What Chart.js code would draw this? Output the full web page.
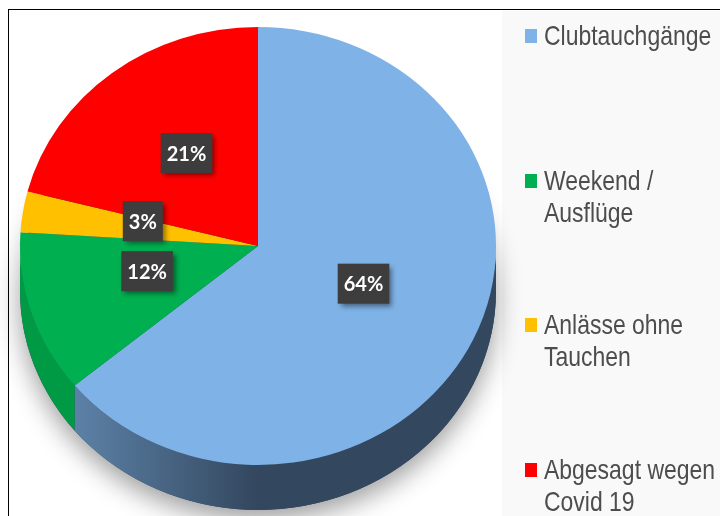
<!DOCTYPE html>
<html>
<head>
<meta charset="utf-8">
<script src="https://cdn.jsdelivr.net/npm/chart.js@4"></script>
<style>
  html,body{margin:0;padding:0;}
  body{width:720px;height:516px;position:relative;overflow:hidden;background:#fff;}
  #frame{position:absolute;left:8px;top:9px;width:720px;height:520px;border-top:1.5px solid #000;border-left:1.5px solid #000;}
  #panel{position:absolute;left:502px;top:11px;width:218px;height:505px;background:#f9f9f9;}
  #chart{position:absolute;left:0;top:0;}
  #legend{position:absolute;left:525px;top:20px;font-family:"Liberation Sans",Arial,sans-serif;font-size:28px;line-height:32px;color:#4d4d4d;white-space:nowrap;}
  .item{height:144.5px;position:relative;}
  .box{position:absolute;left:0;top:9px;width:12px;height:14px;}
  .txt{position:absolute;left:19px;top:0;transform:scaleX(0.82);transform-origin:0 0;}
</style>
</head>
<body>
<div id="frame"></div>
<div id="panel"></div>
<canvas id="chart" width="720" height="516"></canvas>
<div id="legend"></div>
<script>
// ── Daten ──────────────────────────────────────────────────────────────────
const KATEGORIEN = [['Clubtauchgänge'], ['Weekend /','Ausflüge'], ['Anlässe ohne','Tauchen'], ['Abgesagt wegen','Covid 19']];
const ANTEILE    = [64, 12, 3, 21];

const C = {
  blue:'#7fb2e6', green:'#00b050', amber:'#ffc000', red:'#ff0000',
};
const FARBEN = [C.blue, C.green, C.amber, C.red];
// Seitenwand (3D-Rand): [hell, dunkel]
const RAND = [['#5b80a5','#33475e'], ['#009a45','#007a33'], ['#c79600','#a07800'], ['#c00000','#900000']];

const SY = 0.92;     // Neigung: vertikale Stauchung
const TIEFE = 45;    // Randhöhe in px
const HEBUNG = -8;   // Perspektive: Etiketten leicht nach oben

// ── Plugin: 3D-Neigung + Rand ──────────────────────────────────────────────
const pie3d = {
  id:'pie3d',
  beforeDatasetsDraw(chart) {
    const ctx = chart.ctx;
    const arcs = chart.getDatasetMeta(0).data;
    if (!arcs.length) return;
    const {x, y, outerRadius:r} = arcs[0].getProps(['x','y','outerRadius'], true);
    const D = TIEFE / SY;

    ctx.save();
    ctx.translate(x, y);
    ctx.scale(1, SY);

    // Schatten unter dem Kuchen
    ctx.save();
    ctx.shadowColor = 'rgba(0,0,0,0.38)';
    ctx.shadowBlur = 26;
    ctx.shadowOffsetY = 10;
    ctx.beginPath();
    ctx.arc(0, D, r, 0, Math.PI*2);
    ctx.fillStyle = '#33475e';
    ctx.fill();
    ctx.restore();

    // Rand je Segment (nur sichtbare untere Hälfte)
    arcs.forEach((a, i) => {
      const {startAngle:s, endAngle:e} = a.getProps(['startAngle','endAngle'], true);
      [[0, Math.PI], [2*Math.PI, 3*Math.PI]].forEach(([lo, hi]) => {
        const a1 = Math.max(s, lo), a2 = Math.min(e, hi);
        if (a2 <= a1) return;
        const g = ctx.createLinearGradient(-r*0.75, 0, 0, 0);
        g.addColorStop(0, RAND[i][0]); g.addColorStop(1, RAND[i][1]);
        ctx.beginPath();
        ctx.arc(0, 0, r, a1, a2);
        ctx.arc(0, D, r, a2, a1, true);
        ctx.closePath();
        ctx.fillStyle = g;
        ctx.fill();
      });
    });

    // zurück auf absolute Koordinaten, Stauchung bleibt für die Segmente
    ctx.translate(-x, -y);
  },
  afterDatasetsDraw(chart) {
    const ctx = chart.ctx;
    ctx.restore();

    // Prozent-Etiketten
    const arcs = chart.getDatasetMeta(0).data;
    const data = chart.data.datasets[0].data;
    const total = data.reduce((a,b)=>a+b, 0);
    ctx.save();
    ctx.font = 'bold 20px Lato';
    ctx.textAlign = 'center';
    ctx.textBaseline = 'middle';
    arcs.forEach((a, i) => {
      const {x, y, startAngle:s, endAngle:e, outerRadius:r} = a.getProps(['x','y','startAngle','endAngle','outerRadius'], true);
      const m = (s+e)/2;
      const lx = x + Math.cos(m)*r*0.49;
      const ly = y + Math.sin(m)*r*0.49*SY + HEBUNG;
      const txt = Math.round(data[i]/total*100) + '%';
      const w = ctx.measureText(txt).width + 12, h = 40;
      ctx.save();
      ctx.shadowColor = 'rgba(0,0,0,0.45)';
      ctx.shadowBlur = 5; ctx.shadowOffsetX = 3; ctx.shadowOffsetY = 3;
      ctx.fillStyle = '#3d3d3d';
      ctx.fillRect(lx - w/2, ly - h/2, w, h);
      ctx.restore();
      ctx.fillStyle = '#ffffff';
      ctx.fillText(txt, lx, ly + 1);
    });
    ctx.restore();
  }
};

// ── Diagramm ───────────────────────────────────────────────────────────────
new Chart(document.getElementById('chart'), {
  type:'pie',
  data:{
    labels:KATEGORIEN,
    datasets:[{ data:ANTEILE, backgroundColor:FARBEN, borderWidth:0, hoverOffset:0, offset:0 }]
  },
  options:{
    responsive:false, animation:false,
    layout:{padding:{left:20, right:224, top:8, bottom:32}},
    plugins:{ legend:{display:false}, tooltip:{enabled:false} },
  },
  plugins:[pie3d]
});

// ── Legende (HTML) ─────────────────────────────────────────────────────────
const leg = document.getElementById('legend');
KATEGORIEN.forEach((lines, i) => {
  const it = document.createElement('div');
  it.className = 'item';
  it.innerHTML = `<span class="box" style="background:${FARBEN[i]}"></span><span class="txt">${lines.join('<br>')}</span>`;
  leg.appendChild(it);
});
</script>
</body>
</html>
